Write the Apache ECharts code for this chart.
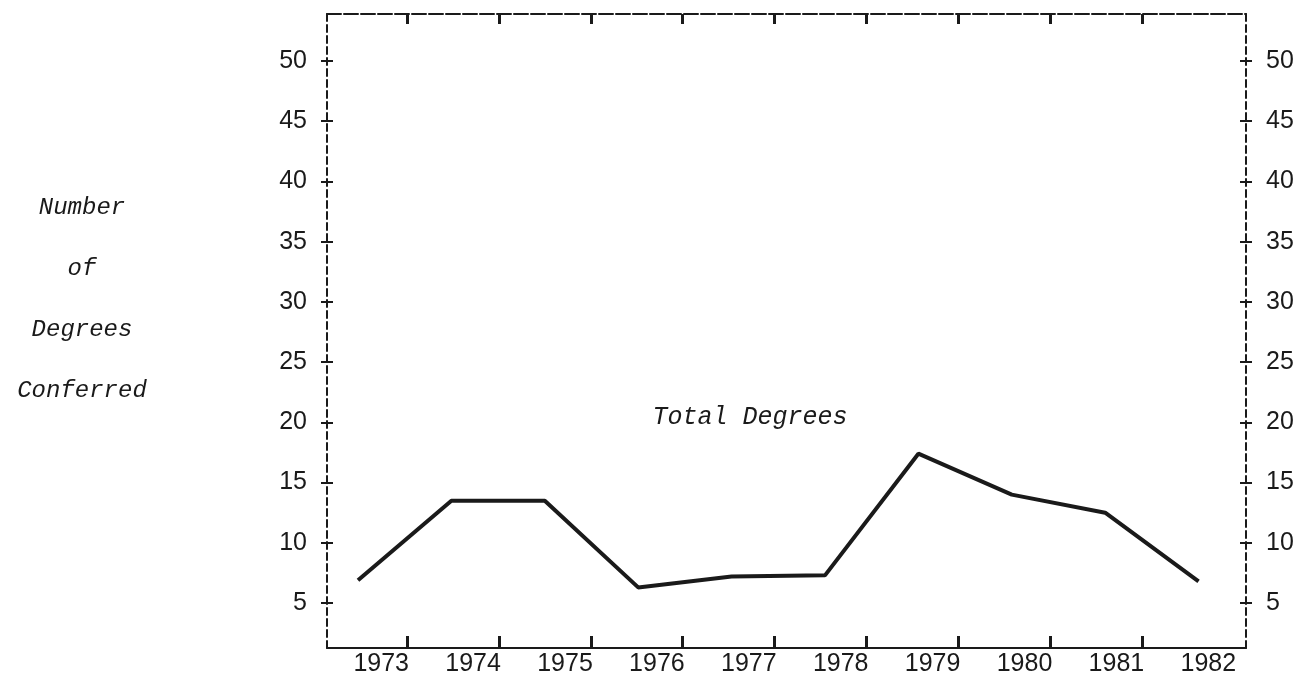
<!DOCTYPE html>
<html>
<head>
<meta charset="utf-8">
<script src="https://cdn.jsdelivr.net/npm/echarts@6/dist/echarts.min.js"></script>
<style>
  html, body { margin: 0; padding: 0; background: #fff; }
  #chart { width: 1306px; height: 674px; }
</style>
</head>
<body>
<div id="chart"></div>
<script>
// data
var years = [1973, 1974, 1975, 1976, 1977, 1978, 1979, 1980, 1981, 1982];
var degrees = [6.9, 13.5, 13.5, 6.3, 7.2, 7.3, 17.4, 14.0, 12.5, 6.8];
var yTicks = [5, 10, 15, 20, 25, 30, 35, 40, 45, 50];
// x ticks sit between year labels (not at the year)
var xTicks = years.slice(0, 9).map(function (y) { return y + 0.28; });

var ink = '#1a1a1a';
var numFont = { fontFamily: 'Liberation Sans', fontSize: 25, color: ink };
var typeFont = { fontFamily: 'Liberation Mono', fontStyle: 'italic', fontWeight: 'normal', fontSize: 24, color: ink };

// y axis helper - outside/inside ticks give the cross mark
function yAx(pos, inside, labels) {
  return {
    type: 'value', position: pos, min: 1.27, max: 53.9,
    axisLine: { show: !inside, lineStyle: { color: ink, width: 2, type: [7, 4] } },
    axisTick: { show: true, inside: inside, length: 6, customValues: yTicks,
      lineStyle: { color: ink, width: 2 } },
    axisLabel: { show: labels, customValues: yTicks, margin: 20,
      fontFamily: numFont.fontFamily, fontSize: numFont.fontSize, color: ink },
    splitLine: { show: false }
  };
}

var chart = echarts.init(document.getElementById('chart'));

var option = {
  animation: false,
  backgroundColor: '#fff',
  title: [{
    text: 'Number\nof\nDegrees\nConferred',
    left: 77, top: 172, textAlign: 'center',
    textStyle: Object.assign({ lineHeight: 61 }, typeFont)
  }, {
    text: 'Total Degrees',
    left: 745, top: 400, textAlign: 'center',
    textStyle: Object.assign({}, typeFont, { fontSize: 25 })
  }],
  grid: { left: 327, right: 60, top: 14, bottom: 26, containLabel: false, outerBoundsMode: 'none' },
  xAxis: [{
    // bottom, with year labels
    type: 'value', position: 'bottom', min: 1972.41, max: 1982.41,
    axisLine: { lineStyle: { color: ink, width: 2 } },
    axisTick: { inside: true, length: 12, customValues: xTicks,
      lineStyle: { color: ink, width: 3 } },
    axisLabel: { customValues: years, margin: 4, formatter: function (v) { return String(Math.round(v)); },
      fontFamily: numFont.fontFamily, fontSize: numFont.fontSize, color: ink },
    splitLine: { show: false }
  }, {
    // top frame
    type: 'value', position: 'top', min: 1972.41, max: 1982.41,
    axisLine: { lineStyle: { color: ink, width: 2, type: [14, 3] } },
    axisTick: { inside: true, length: 10, customValues: xTicks,
      lineStyle: { color: ink, width: 3 } },
    axisLabel: { show: false },
    splitLine: { show: false }
  }, {
    // data axis
    type: 'value', min: 1972.668, max: 1982.508, show: false
  }],
  yAxis: [
    yAx('left', false, true),
    yAx('left', true, false),
    yAx('right', false, true),
    yAx('right', true, false)
  ],
  series: [{
    type: 'line',
    xAxisIndex: 2, yAxisIndex: 0,
    data: years.map(function (y, i) { return [y, degrees[i]]; }),
    symbol: 'none',
    lineStyle: { color: ink, width: 4 }
  }]
};

chart.setOption(option);
</script>
</body>
</html>
